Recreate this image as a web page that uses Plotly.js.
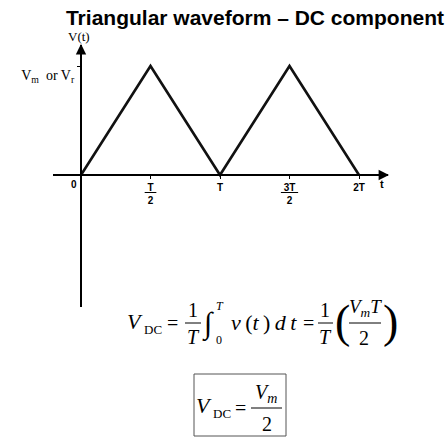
<!DOCTYPE html>
<html>
<head>
<meta charset="utf-8">
<script src="https://cdn.plot.ly/plotly-3.0.1.min.js"></script>
<style>html,body{margin:0;padding:0;background:#fff;}#chart{width:448px;height:437px;}</style>
</head>
<body>
<div id="chart"></div>
<script>
// ---- data ----
const tValues = [0, 0.5, 1, 1.5, 2];          // time in units of T
const vValues = [0, 1, 0, 1, 0];              // voltage in units of Vm
const xTickVals = [0.5, 1, 1.5, 2];
const xTickText = ['<b><u>\u00A0T\u00A0</u></b><br><b>2</b>', '<b>T</b>', '<b><u>\u00A03T\u00A0</u></b><br><b>2</b>', '<b>2T</b>'];
const yTickVals = [1];
const yTickText = ['V<sub>m</sub>\u00A0\u00A0or V<sub>r</sub>'];

// ---- layout helpers (pixel -> paper) ----
const L = 53, R = 388, TOP = 45, BOT = 307;
const W = 448, H = 437;
const px = x => (x - L) / (R - L);
const py = y => (BOT - y) / (BOT - TOP);
// x range: 0 at pixel 81, T/2 every 70 px
const x0 = 81, xs = 139;
const xr = [(L - x0) / xs, (R - x0) / xs];
const y0 = 175, ys = 109;
const yr = [-(BOT - y0) / ys, (y0 - TOP) / ys];

const serif = 'Liberation Serif, Times New Roman, serif';
const sans = 'Liberation Sans, Arial, sans-serif';
const narrow = 'Liberation Sans Narrow, Liberation Sans, Arial, sans-serif';

function txt(x, y, text, size, opts) {
  return Object.assign({
    xref: 'paper', yref: 'paper', x: px(x), y: py(y), text: text,
    showarrow: false, xanchor: 'center', yanchor: 'middle',
    font: {family: serif, size: size, color: '#000'}
  }, opts || {});
}
function bar(xa, xb, y, w) {
  return {type: 'line', xref: 'paper', yref: 'paper', x0: px(xa), x1: px(xb), y0: py(y), y1: py(y),
    line: {color: '#000', width: w || 1}};
}

const annotations = [
  // arrows on axis ends
  {xref: 'paper', yref: 'paper', x: px(389), y: py(175), ax: -8, ay: 0, text: '',
   showarrow: true, arrowhead: 2, arrowsize: 1.3, arrowwidth: 1.6, arrowcolor: '#000'},
  {xref: 'paper', yref: 'paper', x: px(81), y: py(44), ax: 0, ay: 8, text: '',
   showarrow: true, arrowhead: 2, arrowsize: 1.3, arrowwidth: 1.6, arrowcolor: '#000'},
  txt(79, 36, 'V(t)', 13),
  txt(74, 184, '<b>0</b>', 10, {font: {family: narrow, size: 10, color: '#000'}}),
  txt(382, 184, '<b>t</b>', 11, {font: {family: sans, size: 11, color: '#000'}}),
  // equation 1
  txt(135, 321, '<i>V</i>', 22),
  txt(153, 329, 'DC', 13),
  txt(172, 323, '=', 20),
  txt(193, 310, '1', 20),
  txt(193, 337, '<i>T</i>', 20),
  txt(208, 324, '\u222B', 30),
  txt(220, 306, '<i>T</i>', 12),
  txt(219, 340, '0', 12),
  txt(264, 322, '<i>v</i>\u2009(<i>t</i>\u2009)\u2009<i>d</i>\u2009<i>t</i>', 22),
  txt(308, 323, '=', 20),
  txt(325, 310, '1', 20),
  txt(325, 337, '<i>T</i>', 20),
  txt(342, 321, '(', 46),
  txt(365, 308, '<i>V</i><sub><i>m</i></sub><i>T</i>', 19),
  txt(364, 338, '2', 20),
  txt(390, 321, ')', 46),
  // boxed result
  txt(204, 405, '<i>V</i>', 22),
  txt(222, 413, 'DC', 13),
  txt(240, 408, '=', 20),
  txt(266, 393, '<i>V</i><sub><i>m</i></sub>', 20),
  txt(267, 424, '2', 20)
];

const shapes = [
  bar(185, 201, 323),
  bar(318, 333, 323),
  bar(349, 381, 323),
  bar(251, 282, 408),
  {type: 'rect', xref: 'paper', yref: 'paper', x0: px(194), x1: px(286), y0: py(374), y1: py(436),
   line: {color: '#555', width: 1}}
];

const trace = {
  x: tValues, y: vValues, type: 'scatter', mode: 'lines',
  line: {color: '#111', width: 2.6}, hoverinfo: 'skip', cliponaxis: false
};

const layout = {
  width: W, height: H,
  margin: {l: L, r: W - R, t: TOP, b: H - BOT, pad: 0},
  paper_bgcolor: '#fff', plot_bgcolor: '#fff',
  showlegend: false,
  title: {
    text: '<b>Triangular waveform \u2013 DC component</b>',
    xref: 'container', yref: 'container', x: 255 / W, y: 1 - 18 / H,
    xanchor: 'center', yanchor: 'middle',
    font: {family: sans, size: 21, color: '#000'}
  },
  xaxis: {
    range: xr, anchor: 'free', position: py(175),
    showgrid: false, zeroline: false, showline: true, linecolor: '#000', linewidth: 2,
    ticks: 'outside', ticklen: 3, tickwidth: 1, tickcolor: '#000',
    tickvals: xTickVals, ticktext: xTickText,
    tickfont: {family: narrow, size: 10, color: '#000'}, tickangle: 0
  },
  yaxis: {
    range: yr, anchor: 'free', position: px(81),
    showgrid: false, zeroline: false, showline: true, linecolor: '#000', linewidth: 2,
    ticks: 'outside', ticklen: 3, tickwidth: 1, tickcolor: '#000',
    tickvals: yTickVals, ticktext: yTickText,
    tickfont: {family: serif, size: 14, color: '#000'},
    ticklabelshift: 9
  },
  annotations: annotations,
  shapes: shapes
};

Plotly.newPlot('chart', [trace], layout, {displayModeBar: false, staticPlot: true});
</script>
</body>
</html>
